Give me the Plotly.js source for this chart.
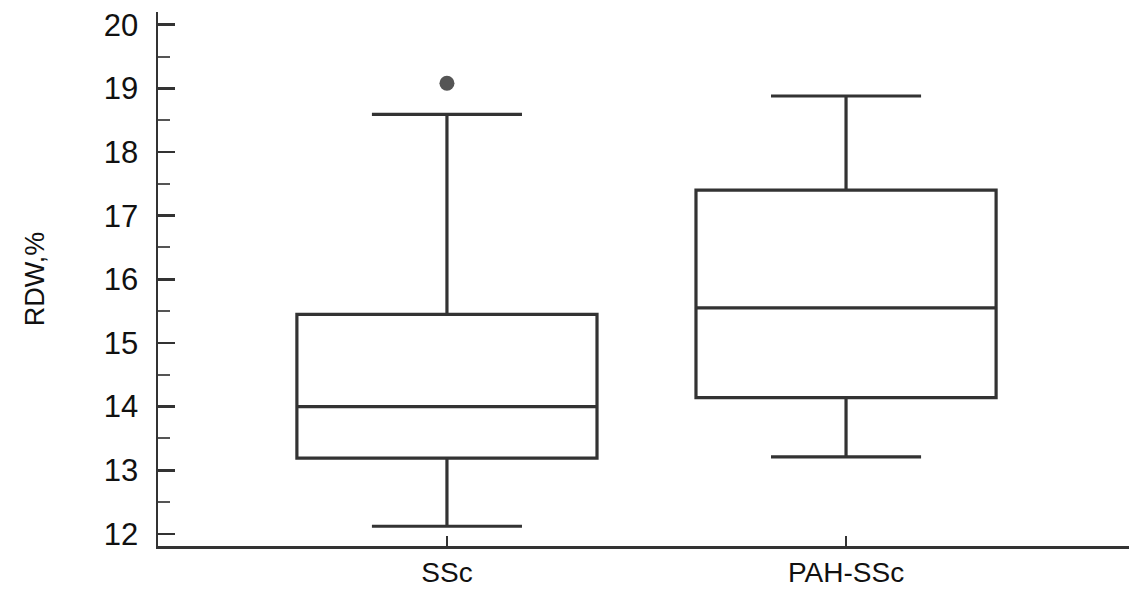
<!DOCTYPE html>
<html>
<head>
<meta charset="utf-8">
<script src="https://cdn.plot.ly/plotly-3.0.1.min.js"></script>
<style>html,body{margin:0;padding:0;background:#fff;}#chart{width:1129px;height:593px;}</style>
</head>
<body>
<div id="chart"></div>
<script>
// Data
const categories = ['SSc', 'PAH-SSc'];
const lowerWhisker = [12.12, 13.21];
const q1Values = [13.19, 14.14];
const medianValues = [14.0, 15.55];
const q3Values = [15.45, 17.40];
const upperWhisker = [18.59, 18.88];
const outlierCategories = ['SSc'];
const outlierValues = [19.08];
const yTickValues = [12, 13, 14, 15, 16, 17, 18, 19, 20];

const axisColor = '#333333';
const fontFamily = 'Liberation Sans, Arial, sans-serif';

const traces = [
  {
    type: 'box',
    x: categories,
    q1: q1Values,
    median: medianValues,
    q3: q3Values,
    lowerfence: lowerWhisker,
    upperfence: upperWhisker,
    boxpoints: false,
    width: 0.752,
    whiskerwidth: 0.5,
    fillcolor: '#ffffff',
    line: {color: '#333333', width: 3.2},
    showlegend: false,
    hoverinfo: 'skip'
  },
  {
    type: 'scatter',
    mode: 'markers',
    x: outlierCategories,
    y: outlierValues,
    marker: {color: '#555555', size: 15, symbol: 'circle'},
    showlegend: false,
    hoverinfo: 'skip'
  }
];

const layout = {
  width: 1129,
  height: 593,
  margin: {l: 158, r: 0, t: 12, b: 47, pad: 0},
  paper_bgcolor: '#ffffff',
  plot_bgcolor: '#ffffff',
  font: {family: fontFamily, color: '#111111'},
  xaxis: {
    type: 'category',
    categoryorder: 'array',
    categoryarray: categories,
    range: [-0.724, 1.709],
    showgrid: false,
    zeroline: false,
    showline: true,
    linecolor: axisColor,
    linewidth: 2.5,
    ticks: 'inside',
    ticklen: 10,
    tickwidth: 2,
    tickcolor: axisColor,
    tickfont: {size: 28, family: fontFamily, color: '#111111'},
    ticklabelstandoff: 0
  },
  yaxis: {
    range: [11.81, 20.2],
    tickvals: yTickValues,
    ticktext: yTickValues.map(String),
    showgrid: false,
    zeroline: false,
    showline: true,
    linecolor: axisColor,
    linewidth: 2.5,
    ticks: 'inside',
    ticklen: 17,
    tickwidth: 2.5,
    tickcolor: axisColor,
    tickfont: {size: 31, family: fontFamily, color: '#111111'},
    ticklabelstandoff: 11,
    minor: {dtick: 0.5, ticks: 'inside', ticklen: 12, tickwidth: 2, tickcolor: '#555555', showgrid: false},
    title: {text: 'RDW,%', font: {size: 27, family: fontFamily, color: '#111111'}, standoff: 52}
  }
};

Plotly.newPlot('chart', traces, layout, {staticPlot: true, displayModeBar: false});
</script>
</body>
</html>
